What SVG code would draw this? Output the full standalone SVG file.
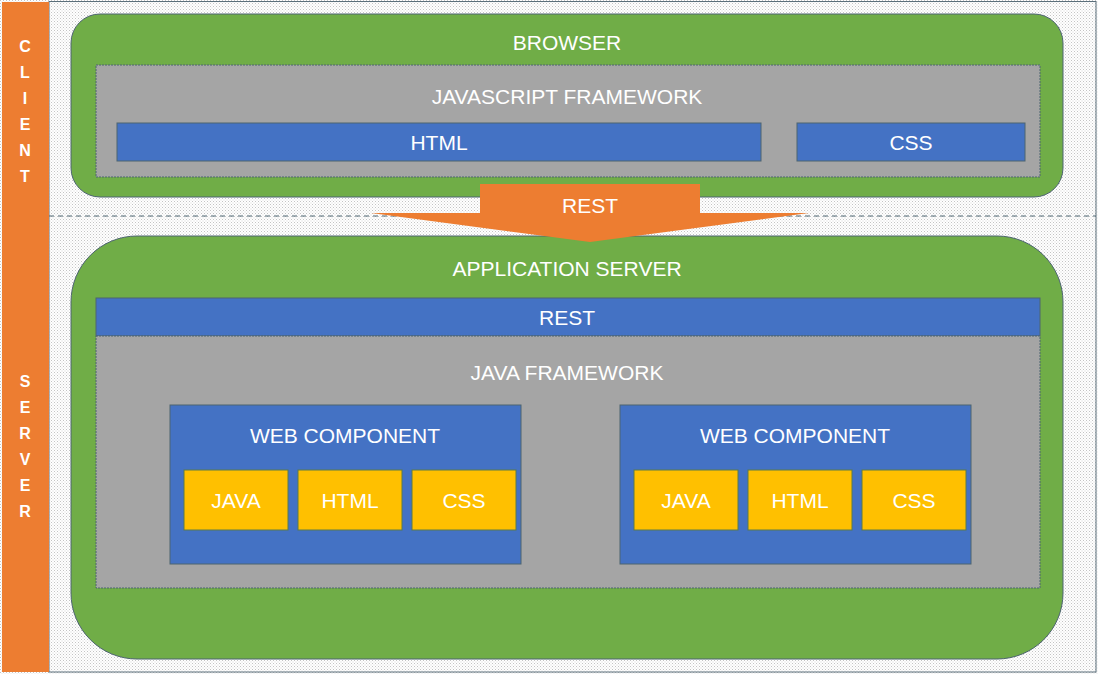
<svg xmlns="http://www.w3.org/2000/svg" width="1098" height="674" viewBox="0 0 1098 674">
<defs>
<pattern id="dots" width="3" height="3" patternUnits="userSpaceOnUse">
<rect width="3" height="3" fill="#ffffff"/>
<rect x="0" y="0" width="1" height="1" fill="#c4c4c4"/>
<rect x="1.5" y="1.5" width="1" height="1" fill="#d4d4d4"/>
</pattern>
<style>
.t{font-family:"Liberation Sans",Arial,sans-serif;font-size:21px;fill:#ffffff;text-anchor:middle;dominant-baseline:central}
.side{font-family:"Liberation Sans",Arial,sans-serif;font-size:16px;font-weight:bold;fill:#ffffff;text-anchor:middle;dominant-baseline:central}
.green{fill:#70ad47;stroke:#4d6470;stroke-width:1}
.gray{fill:#a5a5a5;stroke:#4d6470;stroke-width:1;stroke-dasharray:2 1}
.blue{fill:#4472c4;stroke:#4d6470;stroke-width:1}
.yellow{fill:#ffc000;stroke:#5a7a4a;stroke-width:1}
.orange{fill:#ed7d31}
</style>
</defs>
<rect x="0" y="0" width="1098" height="674" fill="url(#dots)"/>
<rect x="49" y="1.5" width="1047" height="670.5" fill="none" stroke="#5a6e7a" stroke-width="1"/>
<line x1="49" y1="216" x2="1096" y2="216" stroke="#4d6470" stroke-width="1" stroke-dasharray="5 4"/>

<g id="side-bar">
<rect class="orange" x="2" y="2" width="47" height="670"/>
<text class="side" x="25" y="46">C</text>
<text class="side" x="25" y="72">L</text>
<text class="side" x="25" y="98">I</text>
<text class="side" x="25" y="124">E</text>
<text class="side" x="25" y="150">N</text>
<text class="side" x="25" y="176">T</text>
<text class="side" x="25" y="381">S</text>
<text class="side" x="25" y="407">E</text>
<text class="side" x="25" y="433">R</text>
<text class="side" x="25" y="459">V</text>
<text class="side" x="25" y="485">E</text>
<text class="side" x="25" y="511">R</text>
</g>

<g id="browser">
<rect class="green" x="71" y="14" width="992" height="183" rx="29" ry="29"/>
<text class="t" x="567" y="42">BROWSER</text>
</g>
<g id="js-framework">
<rect class="gray" x="96" y="65" width="944" height="112"/>
<text class="t" x="567" y="96">JAVASCRIPT FRAMEWORK</text>
</g>
<g id="client-html">
<rect class="blue" x="117" y="123" width="644" height="38"/>
<text class="t" x="439" y="142">HTML</text>
</g>
<g id="client-css">
<rect class="blue" x="797" y="123" width="228" height="38"/>
<text class="t" x="911" y="142">CSS</text>
</g>

<g id="app-server">
<rect class="green" x="71" y="236" width="992" height="423" rx="66" ry="66"/>
<text class="t" x="567" y="268">APPLICATION SERVER</text>
</g>
<g id="server-rest">
<rect class="blue" x="96" y="298" width="944" height="38"/>
<text class="t" x="567" y="317">REST</text>
</g>
<g id="java-framework">
<rect class="gray" x="96" y="336" width="944" height="252"/>
<text class="t" x="567" y="372">JAVA FRAMEWORK</text>
</g>

<g id="web-component-1">
<rect class="blue" x="170" y="405" width="351" height="159"/>
<text class="t" x="345" y="435">WEB COMPONENT</text>
<rect class="yellow" x="184" y="470" width="104" height="60"/>
<text class="t" x="236" y="500">JAVA</text>
<rect class="yellow" x="298" y="470" width="104" height="60"/>
<text class="t" x="350" y="500">HTML</text>
<rect class="yellow" x="412" y="470" width="104" height="60"/>
<text class="t" x="464" y="500">CSS</text>
</g>
<g id="web-component-2">
<rect class="blue" x="620" y="405" width="351" height="159"/>
<text class="t" x="795" y="435">WEB COMPONENT</text>
<rect class="yellow" x="634" y="470" width="104" height="60"/>
<text class="t" x="686" y="500">JAVA</text>
<rect class="yellow" x="748" y="470" width="104" height="60"/>
<text class="t" x="800" y="500">HTML</text>
<rect class="yellow" x="862" y="470" width="104" height="60"/>
<text class="t" x="914" y="500">CSS</text>
</g>

<g id="connectors">
<g id="rest-arrow">
<polygon class="orange" points="480,184 700,184 700,213 809,213 590,242 371,213 480,213"/>
<text class="t" x="590" y="205">REST</text>
</g>
</g>
</svg>
